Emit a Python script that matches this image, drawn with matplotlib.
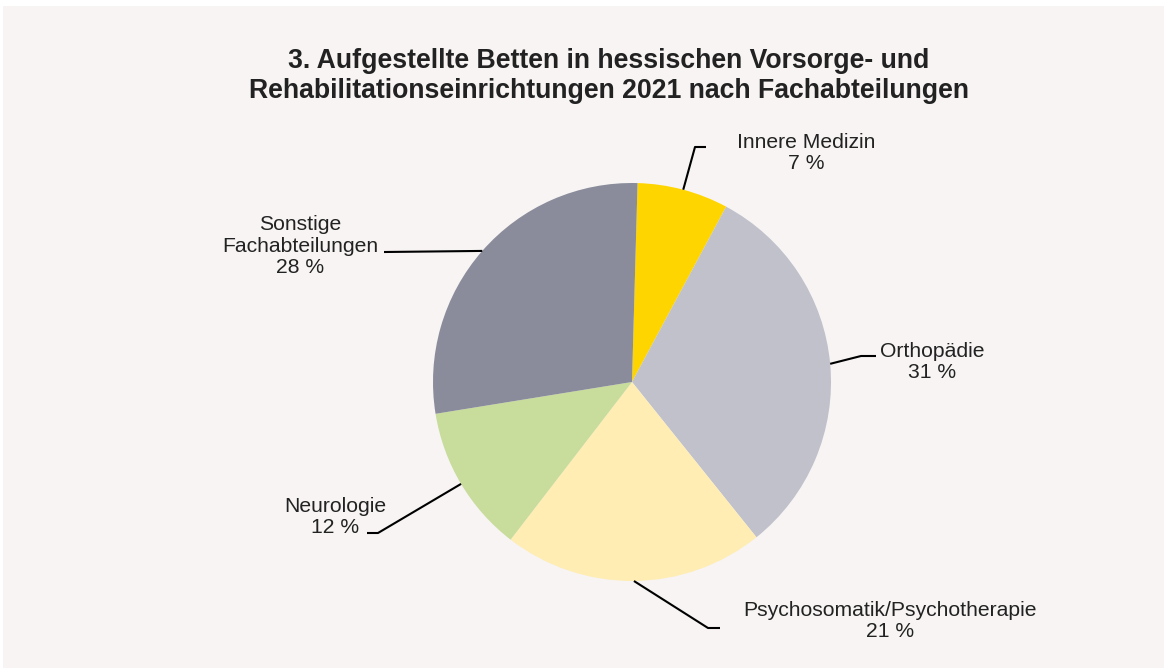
import matplotlib
matplotlib.use('Agg')
from matplotlib import pyplot as plt
from matplotlib.patches import Rectangle
import numpy as np

plt.rcParams['font.family'] = ['Liberation Sans', 'DejaVu Sans']

# data
categories = ['Innere Medizin', 'Orthopädie', 'Psychosomatik/Psychotherapie',
              'Neurologie', 'Sonstige\nFachabteilungen']
shares = [7.4, 31.4, 21.2, 12.0, 28.0]
colors = ['#FFD500', '#C1C1CC', '#FFEDB3', '#C8DC9C', '#8A8C9B']
title = ('3. Aufgestellte Betten in hessischen Vorsorge- und\n'
         'Rehabilitationseinrichtungen 2021 nach Fachabteilungen')

W, H = 1164, 668
cx, cy, R = 632, 382, 199

# leader elbows / ends and label centres in pixels (layout only)
elbows = [(695, 147), (861, 356), (708, 628), (378, 533), (385, 252)]
ends = [(706, 147), (876, 356), (720, 628), (367, 533), (384, 252)]
label_pos = [(806, 153), (932, 362), (890, 621), (335, 517), (300, 246)]


def to_data(p):
    return ((p[0] - cx) / R, (cy - p[1]) / R)


fig = plt.figure(figsize=(W / 100, H / 100), dpi=100)
fig.patch.set_facecolor('white')
fig.patches.append(Rectangle((3 / W, 0), 1, 1 - 6 / H, transform=fig.transFigure,
                             facecolor='#F7F4F3', edgecolor='none', zorder=-1))

ax = fig.add_axes([0, 0, 1, 1])
ax.patch.set_alpha(0)
ax.axis('off')

start = 90 - 1.6
wedges, _ = ax.pie(shares, colors=colors, startangle=start, counterclock=False,
                   radius=1, center=(0, 0), wedgeprops=dict(linewidth=0))
ax.set_xlim(-cx / R, (W - cx) / R)
ax.set_ylim(-(H - cy) / R, cy / R)
ax.set_aspect('equal')

total = sum(shares)
for w, cat, v, el, en, lp in zip(wedges, categories, shares, elbows, ends, label_pos):
    mid = np.deg2rad((w.theta1 + w.theta2) / 2)
    p0 = (np.cos(mid), np.sin(mid))
    p1 = to_data(el)
    p2 = to_data(en)
    ax.plot([p0[0], p1[0], p2[0]], [p0[1], p1[1], p2[1]], color='black', lw=1.5,
            solid_capstyle='butt')
    tx, ty = to_data(lp)
    ax.text(tx, ty, f'{cat}\n{round(v / total * 100)} %', ha='center', va='center',
            fontsize=15.2, color='#222222', linespacing=1.17)

fig.text(609 / W, 1 - 76 / H, title, ha='center', va='center', fontsize=19.2,
         fontweight='bold', color='#222222', linespacing=1.2)

fig.savefig('out.png', dpi=100, facecolor=fig.get_facecolor())
